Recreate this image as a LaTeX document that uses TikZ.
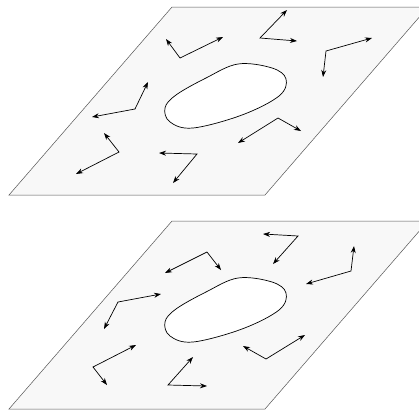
\documentclass[tikz,border=0pt]{standalone}
\usepackage{tikz}
\usetikzlibrary{arrows.meta}
\definecolor{plategray}{HTML}{F8F8F8}
\definecolor{edgegray}{HTML}{555555}

\begin{document}
\begin{tikzpicture}[
x=1pt,y=-1pt,
plate/.style={draw=edgegray,line width=0.5pt,fill=plategray},
hole/.style={draw=black,line width=0.7pt,fill=white},
vec/.style={{Stealth[length=7pt,width=5pt]}-{Stealth[length=7pt,width=5pt]},line width=0.7pt,black}
]
\clip (0,0) rectangle (419,410);
% upper plate
\draw[plate] (172,7) -- (428,7) -- (265,195) -- (9,195) -- cycle;
\draw[hole] plot[smooth cycle,tension=0.6] coordinates {(238,64) (272,68) (286,79) (279,96) (242,115) (193,128) (170,122) (165,108) (176,95) (206,78)};
\draw[vec] (166,39) -- (180,58) -- (223,37);
\draw[vec] (287,10) -- (260,38) -- (297,41);
\draw[vec] (372,38) -- (326,51) -- (323,77);
\draw[vec] (148,82) -- (135,109) -- (92,117);
\draw[vec] (104,133) -- (119,152) -- (76,174);
\draw[vec] (159,153) -- (197,154) -- (173,183);
\draw[vec] (301,131) -- (278,118) -- (238,143);
% lower plate
\begin{scope}[yshift=-214pt]
\draw[plate] (172,7) -- (428,7) -- (265,195) -- (9,195) -- cycle;
\draw[hole] plot[smooth cycle,tension=0.6] coordinates {(238,64) (272,68) (286,79) (279,96) (242,115) (193,128) (170,122) (165,108) (176,95) (206,78)};
\end{scope}
\draw[vec] (263,234) -- (298,236) -- (273,264);
\draw[vec] (165,273) -- (207,252) -- (221,270);
\draw[vec] (354,246) -- (351,271) -- (306,284);
\draw[vec] (161,294) -- (118,302) -- (104,329);
\draw[vec] (136,345) -- (93,367) -- (107,385);
\draw[vec] (193,357) -- (168,385) -- (207,386);
\draw[vec] (305,335) -- (266,359) -- (243,346);
\end{tikzpicture}
\end{document}
